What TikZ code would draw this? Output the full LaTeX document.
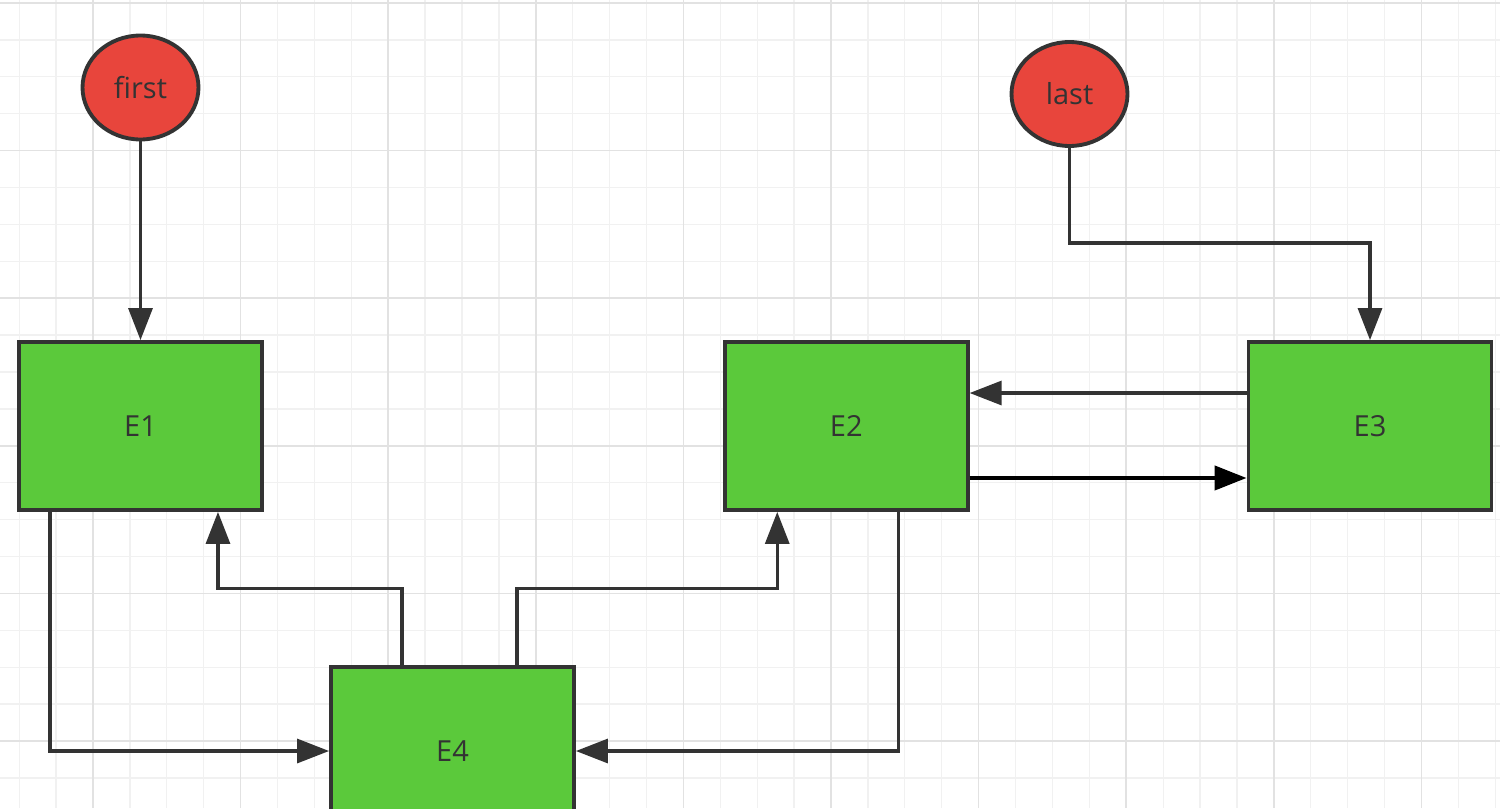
\documentclass[tikz,border=0pt]{standalone}
\usepackage{fontspec}
\setmainfont{Open Sans}
\usepackage{tikz}
\usepackage{xcolor}
\usetikzlibrary{arrows.meta,positioning,shapes.geometric}
\definecolor{Leaf}{HTML}{5BC93B}
\definecolor{Tomato}{HTML}{E8453C}
\definecolor{Ink}{HTML}{333333}
\definecolor{GridMinor}{HTML}{F1F1F1}
\definecolor{GridMajor}{HTML}{E2E2E2}
\tikzset{
  entry/.style={
    rectangle,draw=Ink,line width=2.2pt,fill=Leaf,
    minimum width=4.86cm,minimum height=3.36cm,
    font=\fontsize{16.5}{19}\selectfont,text=Ink
  },
  endpoint/.style={
    ellipse,draw=Ink,line width=2.2pt,fill=Tomato,
    minimum width=2.32cm,minimum height=2.08cm,inner sep=0pt,
    font=\fontsize{16.5}{19}\selectfont,text=Ink
  },
  arrow/.style={-{Triangle[length=0.64cm,width=0.48cm]},line width=1.8pt,draw=Ink},
  gridminor/.style={draw=GridMinor,line width=0.7pt},
  gridmajor/.style={draw=GridMajor,line width=0.9pt}
}

\begin{document}
\begin{tikzpicture}[x=0.02cm,y=-0.02cm]
  \clip (0,0) rectangle (1500,808);
  \fill[white] (0,0) rectangle (1500,808);
  % paper grid
  \foreach \gx in {19.2,56.1,...,1500} \draw[gridminor] (\gx,0) -- (\gx,808);
  \foreach \gy in {3,39.9,...,808} \draw[gridminor] (0,\gy) -- (1500,\gy);
  \foreach \gx in {93,240.6,...,1500} \draw[gridmajor] (\gx,0) -- (\gx,808);
  \foreach \gy in {3,150.6,...,808} \draw[gridmajor] (0,\gy) -- (1500,\gy);

  \node[endpoint] (first) at (140.5,87.5) {first};
  \node[endpoint] (last) at (1069.5,94) {last};
  \node[entry] (E1) at (140.5,426) {E1};
  \node[entry,right=9.18cm of E1] (E2) {E2};
  \node[entry,right=5.54cm of E2] (E3) {E3};
  \node[entry] (E4) at (452.5,751) {E4};

  \draw[arrow] (first) -- (E1);
  \draw[arrow] (last.south) -- ++(0,95) -| (E3.north);
  \draw[arrow] ([yshift=0.66cm]E3.west) -- ([yshift=0.66cm]E2.east);
  \draw[arrow,draw=black,line width=2.4pt] ([yshift=-1.04cm]E2.east) -- ([yshift=-1.04cm]E3.west);
  \draw[arrow] ([xshift=-1.81cm]E1.south) |- (E4.west);
  \draw[arrow] ([xshift=1.04cm]E2.south) |- (E4.east);
  \draw[arrow] ([xshift=-1.01cm]E4.north) -- ++(0,-77) -| ([xshift=1.55cm]E1.south);
  \draw[arrow] ([xshift=1.29cm]E4.north) -- ++(0,-77) -| ([xshift=-1.38cm]E2.south);
\end{tikzpicture}
\end{document}
